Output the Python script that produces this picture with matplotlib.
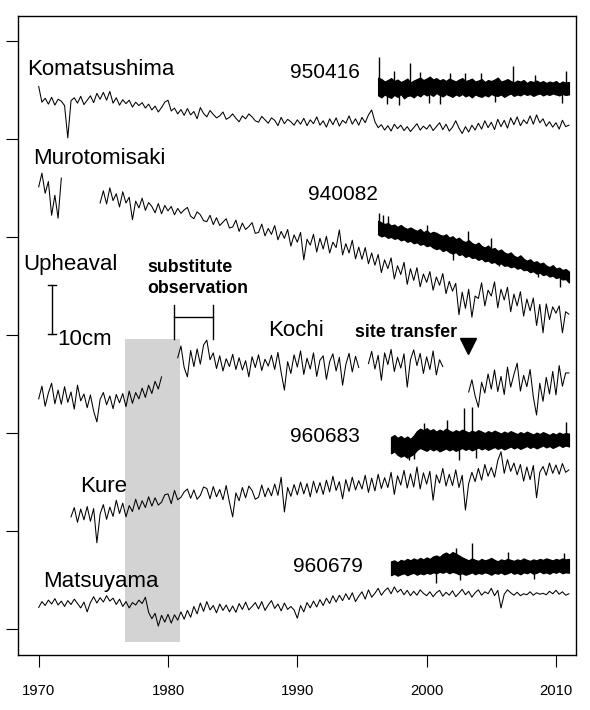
import numpy as np
import matplotlib
matplotlib.use('Agg')
import matplotlib.pyplot as plt

plt.rcParams['font.family'] = ['Liberation Sans', 'DejaVu Sans']

nan = np.nan
STEP = 0.25  # quarterly readings

# tide gauge series (cm, stacked offsets as drawn)
komatsushima_start = 1970.0
komatsushima = [
    110.8, 107.6, 108.4, 107.2, 108.6, 107.0, 108.2, 107.8, 106.9, 100.3, 107.9, 108.5,
    107.4, 108.8, 107.1, 108.0, 108.9, 107.5, 109.4, 108.2, 109.6, 108.0, 109.8, 107.4,
    108.5, 107.0, 108.1, 107.3, 108.0, 106.6, 107.6, 106.9, 107.5, 106.4, 107.2, 106.0,
    106.8, 105.6, 106.5, 107.6, 108.0, 105.8, 106.4, 105.2, 106.1, 104.9, 106.3, 105.0,
    105.7, 104.2, 106.5, 105.3, 104.6, 105.9, 105.1, 104.4, 104.8, 105.6, 104.1, 104.5,
    105.2, 104.3, 103.6, 104.8, 104.2, 105.2, 104.6, 103.8, 103.5, 104.7, 104.0, 103.3,
    104.4, 103.9, 102.8, 104.5, 103.2, 104.1, 103.6, 102.9, 104.0, 103.1, 104.3, 102.8,
    104.0, 103.2, 104.6, 102.9, 103.8, 102.5, 104.2, 103.0, 104.4, 102.7, 103.9, 103.3,
    104.8, 103.1, 104.2, 102.9, 104.5, 103.4, 105.0, 106.0, 103.6, 102.4, 103.0, 101.9,
    102.8, 101.7, 103.1, 102.2, 102.9, 101.8, 102.6, 101.6, 102.4, 103.2, 101.9, 102.7,
    102.1, 103.0, 101.8, 102.6, 103.4, 102.0, 103.1, 101.7, 102.5, 103.8, 102.3, 101.2,
    102.6, 101.5, 102.9, 101.9, 103.3, 102.1, 103.8, 102.4, 103.5, 102.0, 104.1, 102.6,
    103.9, 102.3, 104.4, 103.0, 104.6, 102.8, 104.0, 103.2, 104.8, 103.1, 105.0, 103.4,
    104.2, 102.7, 103.6, 102.5, 103.4, 102.1, 103.9, 102.6, 102.9]

murotomisaki_start = 1970.0
murotomisaki = [
    90.3, 93.1, 89.0, 91.4, 84.5, 88.6, 83.9, 92.1,
    nan, nan, nan, nan, nan, nan, nan, nan, nan, nan, nan,
    87.0,
    89.5, 86.8, 90.1, 87.5, 88.9, 86.2, 89.3, 87.0, 88.2, 83.6, 87.4, 86.0,
    88.0, 85.5, 87.1, 86.3, 85.0, 86.9, 84.8, 86.5, 85.4, 86.3, 84.6, 85.9,
    84.9, 85.6, 86.1, 84.3, 83.8, 85.2, 84.6, 83.4, 83.2, 84.5, 82.6, 84.0,
    82.4, 83.1, 83.8, 81.9, 82.1, 83.5, 81.2, 82.9, 81.6, 82.2, 83.0, 80.8,
    81.0, 82.7, 80.3, 81.8, 80.6, 82.4, 79.5, 81.2, 79.8, 81.6, 78.2, 80.5,
    79.0, 81.0, 75.4, 79.6, 78.4, 80.6, 77.0, 79.8, 77.6, 80.2, 76.8, 79.0,
    77.9, 81.5, 76.4, 78.7, 76.8, 79.4, 75.6, 78.0, 75.5, 77.9, 74.6, 76.8,
    74.3, 76.5, 72.8, 75.4, 73.6, 75.8, 71.5, 74.2, 72.4, 74.9, 70.4, 73.6,
    71.2, 73.8, 69.9, 72.5, 70.8, 73.0, 69.2, 71.9, 70.2, 72.6, 68.5, 71.0,
    69.0, 70.6, 64.2, 68.8, 65.5, 69.4, 63.7, 68.0, 67.5, 70.7, 66.0, 69.2,
    68.0, 70.9, 65.6, 69.4, 67.2, 69.8, 64.8, 68.4, 66.0, 68.9, 63.9, 67.4,
    65.0, 67.6, 62.0, 66.3, 60.5, 66.4, 63.2, 65.8, 64.5, 66.0, 60.5, 64.8,
    64.3]

kochi_start = 1970.0
kochi = [
    47.0, 49.6, 45.5, 48.2, 50.2, 46.0, 48.8, 45.9, 49.5, 46.3, 48.4, 44.9,
    49.8, 46.6, 48.0, 45.2, 47.8, 44.5, 42.3, 46.9, 48.3, 45.8, 47.6, 45.0,
    47.9, 46.2, 48.1, 45.4, 48.6, 46.1, 48.3, 47.0, 49.2, 47.3, 49.8, 48.1,
    50.6, 49.0, 51.5, nan, nan, nan, nan, 55.4,
    57.8, 53.4, 51.5, 56.9, 53.6, 57.2, 54.1, 58.0, 59.0, 55.0, 56.4, 53.2,
    55.8, 52.7, 55.2, 53.6, 56.1, 53.0, 55.4, 52.9, 54.8, 51.5, 55.6, 53.4,
    56.0, 52.8, 55.1, 53.7, 55.9, 53.0, 56.5, 52.4, 48.8, 54.6, 52.2, 56.0,
    53.5, 56.8, 52.0, 55.3, 53.1, 56.4, 51.6, 54.9, 55.8, 51.0, 54.6, 56.2,
    52.7, 55.5, 49.8, 54.0, 56.3, 52.5, 55.7, 53.4,
    nan, nan, 54.2, 56.7,
    53.1, 55.9, 50.8, 56.4, 54.0, 57.1, 52.6, 55.5, 53.3, 56.2, 49.4, 55.0,
    57.0, 53.8, 56.3, 52.2, 55.6, 53.0, 56.8, 51.9, 55.0, 53.6, nan, nan,
    nan, nan, nan, nan, nan, 48.4, 50.9, 47.6,
    45.3, 50.4, 48.2, 52.1, 49.0, 52.9, 48.5, 51.6, 47.9, 53.5, 49.4, 52.0,
    54.3, 48.6, 51.8, 49.5, 53.0, 47.4, 43.7, 50.2, 46.5, 51.4, 48.0, 52.6,
    47.8, 53.8, 49.6, 52.3, 52.3]

kure_start = 1972.5
kure = [
    22.9, 24.8,
    21.8, 24.5, 22.3, 25.0, 22.0, 24.6, 17.6, 23.5, 25.4, 22.4, 24.9, 23.0,
    26.3, 23.6, 25.7, 22.9, 25.2, 24.0, 26.5, 24.4, 26.2, 24.8, 27.0, 25.1,
    26.8, 25.3, 25.9, 27.4, 27.6, 25.6, 28.3, 26.4, 26.9, 28.0, 28.6, 26.7,
    28.4, 26.5, 27.3, 29.0, 28.7, 26.6, 29.1, 27.0, 28.5, 26.4, 29.3, 25.9,
    22.9, 27.8, 26.2, 28.9, 26.8, 29.2, 28.3, 26.5, 26.9, 29.4, 27.0, 28.8,
    27.2, 29.6, 27.3, 31.0, 23.9, 28.9, 27.1, 29.5, 27.4, 30.0, 27.6, 29.7,
    27.0, 30.2, 27.8, 29.9, 27.5, 30.4, 28.0, 31.2, 28.3, 30.1, 26.6, 30.5,
    28.1, 31.0, 28.4, 30.3, 28.6, 31.4, 27.9, 30.8, 28.2, 31.6, 28.7, 30.9,
    28.9, 32.0, 27.5, 31.3, 29.4, 32.4, 28.8, 31.7, 29.0, 33.1, 28.6, 31.9,
    29.6, 32.2, 26.3, 31.5, 29.8, 32.8, 29.2, 31.6, 29.3, 32.5, 28.9, 31.4,
    24.3, 29.7, 32.0, 30.1, 32.8, 30.4, 33.6, 31.2, 33.0, 31.0, 34.4, 36.2,
    31.8, 34.6, 32.2, 33.9, 31.5, 33.6, 30.2, 33.1, 30.5, 33.4, 26.8, 32.0,
    33.2, 31.4, 33.9, 31.8, 33.5, 31.6, 33.8, 32.0, 32.5]

matsuyama_start = 1970.0
matsuyama = [
    4.4, 5.6, 4.8, 5.9, 5.1, 6.2, 4.9, 5.7, 4.6, 5.8, 5.0, 6.1,
    5.2, 4.3, 5.5, 3.5, 5.4, 6.6, 5.3, 6.4, 5.5, 6.8, 5.7, 6.3,
    5.0, 6.1, 4.6, 5.6, 4.3, 5.4, 4.9, 5.9, 5.2, 6.5, 3.4, 2.1,
    3.2, 0.6, 2.8, 1.4, 3.0, 1.2, 2.9, 1.8, 3.5, 2.0, 3.8, 2.4,
    4.6, 3.1, 5.3, 3.6, 5.6, 3.9, 4.8, 3.3, 5.1, 3.8, 4.9, 3.5,
    4.7, 3.4, 5.2, 4.0, 5.5, 3.9, 4.6, 5.4, 4.1, 5.6, 3.8, 4.9,
    5.8, 4.2, 5.1, 3.7, 5.3, 4.0, 4.6, 3.9, 2.2, 4.8, 3.5, 5.4,
    4.3, 5.7, 4.5, 6.0, 4.8, 6.3, 5.2, 6.8, 5.5, 6.9, 5.8, 7.2,
    6.0, 7.4, 5.6, 6.7, 7.6, 6.1, 8.0, 6.5, 7.3, 8.3, 6.9, 7.8,
    8.4, 7.2, 8.6, 7.5, 8.1, 7.0, 7.9, 6.8, 7.7, 6.9, 8.0, 7.3,
    6.8, 7.6, 6.6, 7.4, 7.9, 6.7, 7.5, 6.9, 7.8, 6.6, 7.3, 8.1,
    7.0, 7.7, 6.5, 7.4, 8.0, 6.9, 7.6, 7.2, 8.3, 6.8, 7.9, 4.3,
    7.1, 8.0, 7.4, 6.9, 7.5, 6.8, 7.2, 7.0, 7.6, 6.9, 7.4, 7.1,
    7.3, 7.0, 7.7, 7.2, 7.9, 7.1, 7.6, 6.9, 7.2]

# GPS stations: upper / lower envelope of the daily band, plus single spikes
gps950416_start = 1996.25
gps950416_hi = [
    112.6, 112.3, 111.8, 112.1, 112.5, 111.9, 112.2, 111.7, 112.0, 112.4,
    111.6, 112.0, 112.3, 112.6, 112.1, 112.4, 112.8, 112.2, 112.5, 112.0,
    112.3, 111.9, 112.4, 112.1, 111.8, 112.2, 112.5, 111.9, 112.1, 112.4,
    111.8, 112.0, 112.3, 111.7, 112.1, 111.9, 112.2, 112.6, 111.8, 112.0,
    112.3, 111.9, 111.6, 112.0, 111.8, 112.1, 111.5, 111.9, 111.7, 112.0,
    111.6, 111.9, 111.5, 111.8, 111.6, 111.9, 111.4, 111.8, 111.6, 111.7]
gps950416_lo = [
    109.0, 108.6, 109.2, 108.8, 108.5, 109.1, 108.7, 109.3, 108.4, 108.9,
    109.0, 108.6, 109.2, 108.8, 109.4, 109.0, 109.3, 108.9, 109.5, 109.1,
    108.8, 109.3, 109.0, 108.7, 109.2, 108.9, 109.3, 108.8, 109.1, 108.6,
    109.2, 108.9, 108.7, 109.1, 108.8, 109.3, 109.0, 108.9, 109.2, 108.7,
    109.1, 109.4, 108.9, 109.2, 109.0, 109.4, 109.1, 109.3, 108.9, 109.2,
    109.4, 109.0, 109.3, 109.1, 109.4, 109.2, 109.0, 109.3, 109.1, 109.2]
gps950416_spike_t = [1996.3, 1997.5, 1998.7, 1999.5, 2001.8, 2003.0, 2004.2, 2006.7,
                     2008.4, 2010.8, 1996.9, 1997.9, 2000.2, 2001.0, 2005.3, 2010.5]
gps950416_spike_v = [116.8, 114.0, 115.6, 113.8, 113.5, 113.6, 113.5, 115.0,
                     113.2, 113.9, 107.3, 107.0, 107.4, 107.2, 107.6, 107.5]

gps940082_start = 1996.25
gps940082_hi = [
    83.4, 83.0, 82.7, 82.9, 82.4, 82.6, 82.1, 82.5, 82.0, 81.7,
    82.0, 81.6, 81.3, 81.7, 81.0, 81.4, 80.8, 81.1, 80.9, 80.5,
    80.3, 80.6, 79.9, 80.2, 79.6, 79.9, 79.3, 79.0, 79.4, 78.8,
    78.5, 78.9, 78.2, 77.9, 78.3, 77.6, 77.8, 77.2, 77.5, 76.9,
    76.6, 76.9, 76.2, 75.9, 76.3, 75.6, 75.2, 75.5, 74.9, 75.1,
    74.6, 74.8, 74.2, 73.9, 74.3, 73.6, 73.8, 73.3, 73.5, 73.0]
gps940082_lo = [
    80.6, 80.2, 80.4, 79.9, 80.1, 79.7, 79.9, 79.4, 79.6, 79.1,
    79.3, 78.8, 79.0, 78.5, 78.7, 78.2, 78.4, 77.9, 77.6, 77.8,
    77.2, 77.5, 77.0, 76.7, 77.0, 76.4, 76.6, 76.0, 76.3, 75.8,
    75.9, 75.4, 75.7, 75.1, 75.3, 74.8, 75.0, 74.5, 74.7, 74.2,
    74.3, 73.9, 74.1, 73.6, 73.8, 73.3, 73.4, 72.9, 73.1, 72.6,
    72.8, 72.3, 72.5, 72.0, 72.2, 71.7, 71.9, 71.4, 71.5, 70.8]
gps940082_spike_t = [1996.3, 1996.6, 1997.0, 2000.0, 2003.2, 2005.0,
                     2002.0, 2005.6, 2008.6, 2010.3]
gps940082_spike_v = [85.0, 84.6, 84.3, 82.6, 81.2, 79.8,
                     75.4, 74.2, 71.9, 69.8]

gps960683_start = 1997.25
gps960683_hi = [
    39.2, 39.6, 39.0, 39.4, 38.9, 39.3, 38.8, 39.5, 40.4, 40.9,
    40.6, 41.0, 40.5, 40.8, 40.3, 40.7, 40.4, 40.9, 40.5, 40.2,
    40.6, 40.3, 40.7, 40.4, 40.1, 40.5, 40.2, 40.6, 40.3, 40.0,
    40.4, 40.1, 40.5, 40.2, 39.9, 40.3, 40.0, 40.4, 40.1, 39.8,
    40.2, 39.9, 40.3, 40.0, 39.7, 40.1, 39.8, 40.2, 39.9, 39.6,
    40.0, 39.7, 40.1, 39.8, 40.0, 39.9]
gps960683_lo = [
    35.9, 36.3, 35.6, 35.2, 35.5, 35.0, 35.4, 35.8, 36.6, 37.0,
    36.7, 36.4, 36.9, 36.5, 36.8, 36.3, 36.6, 36.9, 36.5, 36.8,
    36.4, 36.7, 37.0, 36.6, 36.9, 36.5, 36.8, 37.1, 36.7, 37.0,
    36.6, 36.9, 37.2, 36.8, 37.1, 36.7, 37.0, 37.3, 36.9, 37.2,
    36.8, 37.1, 37.4, 37.0, 37.3, 36.9, 37.2, 37.5, 37.1, 37.4,
    37.0, 37.3, 37.6, 37.2, 37.5, 37.3]
gps960683_spike_t = [1999.8, 2001.6, 2002.9, 2003.5, 2010.8,
                     1998.6, 1999.0, 2002.5, 2003.8]
gps960683_spike_v = [42.0, 42.6, 45.1, 45.3, 42.2,
                     34.5, 34.8, 34.6, 34.9]

gps960679_start = 1997.25
gps960679_hi = [
    13.8, 14.0, 13.6, 14.1, 13.9, 14.3, 14.0, 14.4, 14.1, 14.5,
    14.2, 14.6, 14.3, 14.8, 15.0, 14.7, 15.3, 15.6, 15.2, 15.7,
    15.4, 15.0, 14.6, 14.3, 14.0, 14.4, 14.1, 13.9, 14.3, 14.0,
    14.2, 14.5, 14.1, 13.8, 14.2, 14.0, 14.3, 14.1, 13.9, 14.2,
    14.0, 14.4, 14.1, 13.9, 14.2, 14.0, 14.3, 14.1, 14.4, 14.2,
    14.0, 14.3, 14.1, 14.4, 14.2, 14.3]
gps960679_lo = [
    11.0, 11.3, 10.9, 11.2, 11.4, 11.0, 11.3, 11.5, 11.1, 11.4,
    11.2, 11.5, 11.3, 11.6, 11.4, 11.7, 11.5, 11.8, 11.4, 11.7,
    11.5, 11.2, 11.4, 11.1, 11.3, 11.6, 11.2, 11.5, 11.3, 11.6,
    11.4, 11.1, 11.5, 11.3, 11.6, 11.2, 11.4, 11.7, 11.3, 11.5,
    11.2, 11.6, 11.4, 11.7, 11.3, 11.5, 11.8, 11.4, 11.6, 11.3,
    11.7, 11.5, 11.8, 11.4, 11.6, 11.5]
gps960679_spike_t = [2002.3, 2003.5, 2006.3, 2010.6, 2000.7, 2002.6, 2008.3]
gps960679_spike_v = [16.6, 17.6, 15.8, 15.5, 9.4, 10.0, 10.3]

x_ticks = [1970, 1980, 1990, 2000, 2010]


def years(start, vals):
    return start + STEP * np.arange(len(vals))


fig = plt.figure(figsize=(5.9, 7.1), dpi=100)
ax = fig.add_axes([18 / 590, 55 / 710, 558 / 590, 639 / 710])
ax.set_xlim(1968.4, 2011.55)
ax.set_ylim(-5.31, 125.2)

# shaded period
ax.fill_between([1976.7, 1980.9], -2.66, 59.2, color='#d3d3d3', lw=0, zorder=1)

for start, vals in [(komatsushima_start, komatsushima),
                    (murotomisaki_start, murotomisaki),
                    (kochi_start, kochi),
                    (kure_start, kure),
                    (matsuyama_start, matsuyama)]:
    ax.plot(years(start, vals), vals, color='black', lw=0.75, zorder=3)

for start, hi, lo, st, sv in [
        (gps950416_start, gps950416_hi, gps950416_lo, gps950416_spike_t, gps950416_spike_v),
        (gps940082_start, gps940082_hi, gps940082_lo, gps940082_spike_t, gps940082_spike_v),
        (gps960683_start, gps960683_hi, gps960683_lo, gps960683_spike_t, gps960683_spike_v),
        (gps960679_start, gps960679_hi, gps960679_lo, gps960679_spike_t, gps960679_spike_v)]:
    t = years(start, hi)
    hi = np.array(hi)
    lo = np.array(lo)
    ax.fill_between(t, lo, hi, facecolor='black', edgecolor='black', lw=1.0, zorder=3)
    mid = np.interp(st, t, (hi + lo) / 2)
    ax.vlines(st, mid, sv, color='black', lw=1.0, zorder=3)

# station labels
big = dict(fontsize=16, color='black', va='baseline', ha='left')
ax.text(1969.1, 113.15, 'Komatsushima', **big)
ax.text(1969.56, 95.0, 'Murotomisaki', **big)
ax.text(1968.79, 73.3, 'Upheaval', **big)
ax.text(1971.42, 58.0, '10cm', **big)
ax.text(1987.74, 59.8, 'Kochi', **big)
ax.text(1973.19, 28.0, 'Kure', **big)
ax.text(1970.33, 8.65, 'Matsuyama', **big)

num = dict(fontsize=15, color='black', va='baseline', ha='left')
ax.text(1989.45, 112.5, '950416', **num)
ax.text(1990.84, 87.6, '940082', **num)
ax.text(1989.45, 38.2, '960683', **num)
ax.text(1989.68, 11.6, '960679', **num)

bold = dict(fontsize=12.8, fontweight='bold', color='black', va='baseline', ha='left')
ax.text(1978.38, 73.0, 'substitute', **bold)
ax.text(1978.38, 68.6, 'observation', **bold)
ax.text(1994.47, 59.7, 'site transfer', **bold)

# 10 cm scale bar
ax.plot([1971.03, 1971.03], [60.3, 70.3], color='black', lw=1)
ax.plot([1970.7, 1971.36], [70.3, 70.3], color='black', lw=1)
ax.plot([1970.7, 1971.36], [60.3, 60.3], color='black', lw=1)

# substitute observation bracket
ax.plot([1980.5, 1980.5], [59.2, 66.2], color='black', lw=1)
ax.plot([1983.5, 1983.5], [59.2, 66.2], color='black', lw=1)
ax.plot([1980.5, 1983.5], [63.7, 63.7], color='black', lw=1)

# site transfer marker
ax.plot([2003.2], [57.9], marker='v', markersize=11, color='black', zorder=4)

ax.set_xticks(x_ticks)
ax.set_xticklabels([str(v) for v in x_ticks])
ax.set_yticks(range(0, 121, 20))
ax.set_yticklabels([])
ax.tick_params(axis='x', length=8.6, width=0.8, pad=12, labelsize=10.7)
ax.tick_params(axis='y', length=8.6, width=0.8)
for s in ax.spines.values():
    s.set_linewidth(1.0)

fig.savefig('out.png', dpi=100)
